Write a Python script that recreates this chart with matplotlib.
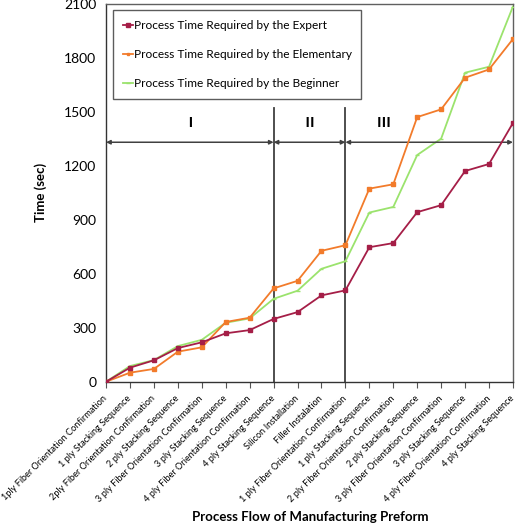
import matplotlib
matplotlib.use("Agg")
import matplotlib.pyplot as plt
from matplotlib.transforms import ScaledTranslation

categories = [
    "1ply Fiber Orientation Confirmation",
    "1 ply Stacking Sequence",
    "2ply Fiber Orientation Confirmation",
    "2 ply Stacking Sequence",
    "3 ply Fiber Orientation Confirmation",
    "3 ply Stacking Sequence",
    "4 ply Fiber Orientation Confirmation",
    "4 ply Stacking Sequence",
    "Silicon Installation",
    "Filler Instalation",
    "1 ply Fiber Orientation Confirmation",
    "1 ply Stacking Sequence",
    "2 ply Fiber Orientation Confirmation",
    "2 ply Stacking Sequence",
    "3 ply Fiber Orientation Confirmation",
    "3 ply Stacking Sequence",
    "4 ply Fiber Orientation Confirmation",
    "4 ply Stacking Sequence",
]
expert = [0, 78, 119, 187, 219, 269, 287, 349, 387, 480, 508, 748, 771, 943, 982, 1172, 1211, 1439]
elementary = [0, 50, 71, 167, 191, 332, 356, 519, 561, 728, 759, 1074, 1098, 1472, 1515, 1691, 1737, 1906]
beginner = [0, 87, 120, 198, 233, 328, 352, 461, 506, 628, 670, 941, 972, 1261, 1352, 1719, 1752, 2087]

series_names = ["Process Time Required by the Expert",
                "Process Time Required by the Elementary",
                "Process Time Required by the Beginner"]
section_labels = ["Ⅰ", "Ⅱ", "Ⅲ"]
section_bounds = [0, 7, 10, 17]
y_ticks = [0, 300, 600, 900, 1200, 1500, 1800, 2100]

plt.rcParams['font.family'] = ['Lato', 'DejaVu Sans']

fig = plt.figure(figsize=(5.15, 5.25), dpi=100)
ax = fig.add_axes([0.206, 0.273, 0.790, 0.719])

x = list(range(len(categories)))
ax.plot(x, expert, color='#A51E47', lw=1.3, marker='s', ms=3.2, label=series_names[0], zorder=5)
ax.plot(x, elementary, color='#F27B2B', lw=1.3, marker='s', ms=2.6, label=series_names[1], zorder=4)
ax.plot(x, beginner, color='#9BE36D', lw=1.3, marker='_', ms=3, label=series_names[2], zorder=3)

ax.set_xlim(0, 17)
ax.set_ylim(0, 2100)
ax.set_yticks(y_ticks)
ax.set_xticks(x)
ax.set_xticklabels(categories, rotation=45, ha='right', va='center',
                   rotation_mode='anchor', fontsize=6.6)
shift = ScaledTranslation(-3.5 / 100, 0, fig.dpi_scale_trans)
for lbl in ax.get_xticklabels():
    lbl.set_transform(lbl.get_transform() + shift)
ax.tick_params(axis='y', labelsize=10, length=0, pad=7)
ax.tick_params(axis='x', length=4, color='#555555', pad=7)
for s in ax.spines.values():
    s.set_color('#606060')
    s.set_linewidth(1.0)
ax.spines['left'].set_color('#333333')
ax.spines['bottom'].set_color('#333333')

# section dividers
for b in section_bounds[1:3]:
    ax.plot([b, b], [0, 1521], color='#404040', lw=1.3, zorder=2)
for i in range(3):
    ax.annotate('', xy=(section_bounds[i], 1332), xytext=(section_bounds[i + 1], 1332),
                arrowprops=dict(arrowstyle='<|-|>', color='#404040', lw=1.1,
                                mutation_scale=6, shrinkA=0, shrinkB=0))
label_x = [3.5, 8.5, 11.6]
for lx, t in zip(label_x, section_labels):
    ax.text(lx, 1438, t, ha='center', va='center', fontsize=10, fontweight='bold',
            family=['Noto Sans CJK JP', 'DejaVu Sans'])

leg = ax.legend(loc='upper left', bbox_to_anchor=(0.018, 0.984), fontsize=8.6,
                frameon=True, fancybox=False, edgecolor='#333333', handlelength=0.8,
                handletextpad=0.1, labelspacing=1.52, borderpad=0.8, borderaxespad=0,
                markerscale=0.8)
leg.get_frame().set_linewidth(1.0)

ax.set_ylabel('Time (sec)', fontsize=9.5, fontweight='bold', labelpad=12)
fig.text(0.602, 0.015, 'Process Flow of Manufacturing Preform', ha='center', va='center',
         fontsize=9.5, fontweight='bold')

fig.savefig('out.png', dpi=100)
